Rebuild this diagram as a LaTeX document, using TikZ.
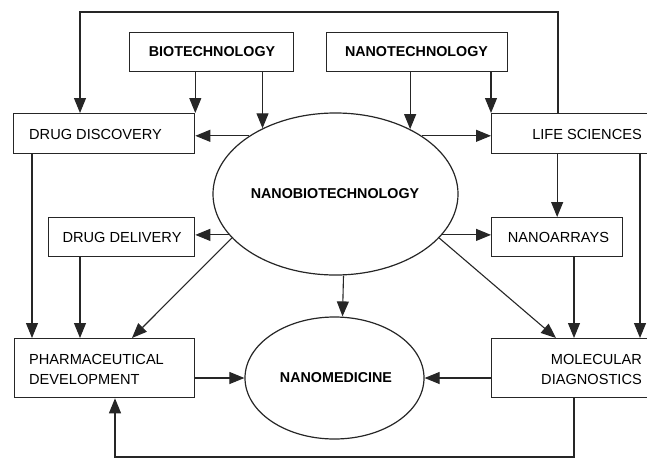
\documentclass[tikz,border=0pt]{standalone}
\usepackage{fontspec}
\setmainfont{Liberation Sans}
\usetikzlibrary{shapes.geometric,arrows.meta,calc}
\begin{document}
\begin{tikzpicture}[x=1pt,y=-1pt,
  box/.style={draw=black!85,line width=1.3pt,inner sep=0pt,anchor=north west},
  oval/.style={draw=black!85,line width=1.2pt,ellipse,inner sep=0pt},
  lbl/.style={font=\fontsize{14.6}{17}\selectfont,inner sep=0pt},
  blbl/.style={font=\fontsize{14.3}{16}\selectfont\bfseries,inner sep=0pt},
  arr/.style={draw=black!85,line width=1.1pt,-{Triangle[length=15pt,width=12pt]}},
  ln/.style={draw=black!85,line width=1.1pt}]
\useasboundingbox (0,0) rectangle (647,458);
\clip (0,0) rectangle (647,458);
% boxes
\node[box,minimum width=164pt,minimum height=39pt] (bio) at (129,32) {};
\node[box,minimum width=181pt,minimum height=39pt] (nano) at (326,32) {};
\node[box,minimum width=181pt,minimum height=40pt] (dd) at (13,113) {};
\node[box,minimum width=170pt,minimum height=40pt] (ls) at (491,113) {};
\node[box,minimum width=146pt,minimum height=39pt] (ddl) at (48,217) {};
\node[box,minimum width=131pt,minimum height=39pt] (na) at (491,217) {};
\node[box,minimum width=180pt,minimum height=59pt] (ph) at (14,338) {};
\node[box,minimum width=170pt,minimum height=59pt] (md) at (491,338) {};
% ellipses
\node[oval,minimum width=245pt,minimum height=162pt] (nb) at (335.5,194) {};
\node[oval,minimum width=179pt,minimum height=122pt] (nm) at (334.5,378) {};
% labels
\node[blbl] (biot) at (212,51.5) {BIOTECHNOLOGY};
\node[blbl] (nanot) at (416.5,51.5) {NANOTECHNOLOGY};
\node[lbl,anchor=west] (ddt) at (29,134) {DRUG DISCOVERY};
\node[lbl,anchor=east] (lst) at (642,134) {LIFE SCIENCES};
\node[lbl] (ddlt) at (122,237) {DRUG DELIVERY};
\node[lbl] (nat) at (558.5,237) {NANOARRAYS};
\node[lbl,anchor=west,align=left,font=\fontsize{14.6}{20}\selectfont] (pht) at (29,369) {PHARMACEUTICAL\\DEVELOPMENT};
\node[lbl,anchor=east,align=right,font=\fontsize{14.6}{20}\selectfont] (mdt) at (642,369) {MOLECULAR\\DIAGNOSTICS};
\node[blbl] (nbt) at (335,194) {NANOBIOTECHNOLOGY};
\node[blbl] (nmt) at (336,378) {NANOMEDICINE};
% coordinates for loops
\coordinate (tl) at (80,12);
\coordinate (bl) at (115,457);
% connectors
\draw[arr] ([xshift=67pt]ls.north west) |- (tl) -- ([xshift=67pt]dd.north west);
\draw[arr] (bio.south -| dd.north east) -- (dd.north east);
\draw[arr] (nb.138.6 |- bio.south) -- (nb.138.6);
\draw[arr] (nb.41.4 |- nano.south) -- (nb.41.4);
\draw[arr] (nano.south -| ls.north west) -- (ls.north west);
\draw[arr] (nb.146) -- (nb.146 -| dd.east);
\draw[arr] (nb.34) -- (nb.34 -| ls.west);
\draw[arr] (nb.201) -- (nb.201 -| ddl.east);
\draw[arr] (nb.339) -- (nb.339 -| na.west);
\draw[arr] (nb.203) -- ([xshift=118pt]ph.north west);
\draw[arr] (nb.337) -- ([xshift=65pt]md.north west);
\draw[arr] ([xshift=8pt]nb.south) -- ([xshift=8pt]nm.north);
\draw[arr] (na.north |- ls.south) -- (na.north);
\draw[arr] ([xshift=149pt]ls.south west) -- ([xshift=149pt]ls.south west |- md.north);
\draw[arr] ([xshift=83pt]na.south west) -- ([xshift=83pt]na.south west |- md.north);
\draw[arr] ([xshift=19pt]dd.south west) -- ([xshift=19pt]dd.south west |- ph.north);
\draw[arr] ([xshift=32pt]ddl.south west) -- ([xshift=32pt]ddl.south west |- ph.north);
\draw[arr] (nm.west -| ph.east) -- (nm.west);
\draw[arr] (nm.east -| md.west) -- (nm.east);
\draw[arr] ([xshift=83pt]md.south west) |- (bl) -- (bl |- ph.south);
\end{tikzpicture}
\end{document}
